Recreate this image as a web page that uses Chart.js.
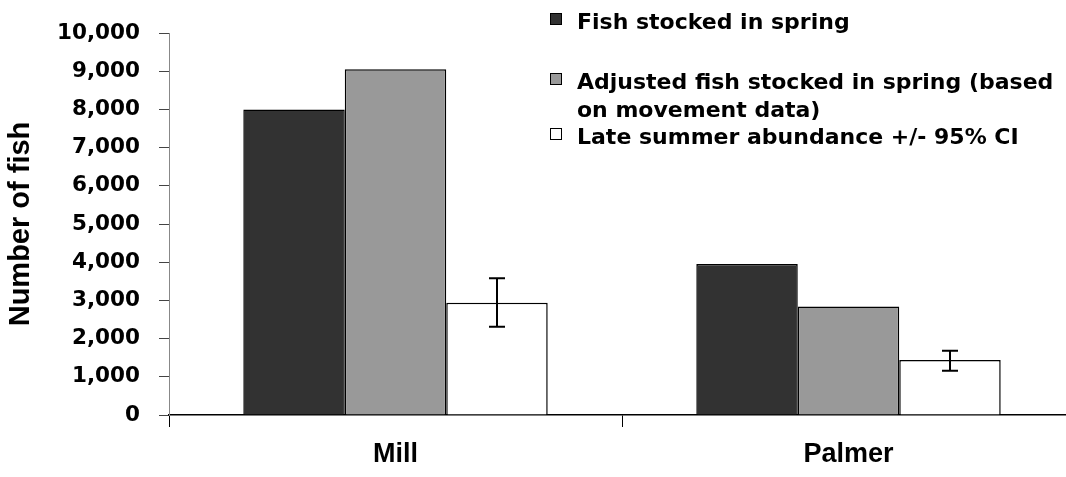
<!DOCTYPE html>
<html>
<head>
<meta charset="utf-8">
<script src="https://cdn.jsdelivr.net/npm/chart.js@4/dist/chart.umd.min.js"></script>
<style>
  html, body { margin: 0; padding: 0; background: #fff; overflow: hidden; }
  #wrap { position: relative; width: 1090px; height: 477px; }
</style>
</head>
<body>
<div id="wrap"><canvas id="c"></canvas></div>
<script>
const categories = ['Mill', 'Palmer'];
const seriesNames = ['Fish stocked in spring', 'Adjusted fish stocked in spring (based\non movement data)', 'Late summer abundance +/- 95% CI'];
const stockedSpring = [8000, 3950];
const adjustedSpring = [9050, 2840];
const lateSummer = [2940, 1440];
const lateSummerLow = [2310, 1160];
const lateSummerHigh = [3580, 1680];
const yTicks = [0, 1000, 2000, 3000, 4000, 5000, 6000, 7000, 8000, 9000, 10000];
const seriesColors = ['#323232', '#999999', '#ffffff'];

const errorBars = {
  id: 'errorBars',
  afterDatasetsDraw(chart) {
    const ctx = chart.ctx;
    const meta = chart.getDatasetMeta(2);
    const y = chart.scales.y;
    ctx.save();
    ctx.strokeStyle = '#000';
    ctx.lineWidth = 2;
    meta.data.forEach((bar, i) => {
      const x = Math.round(bar.x);
      const yl = y.getPixelForValue(lateSummerLow[i]);
      const yh = y.getPixelForValue(lateSummerHigh[i]);
      ctx.beginPath();
      ctx.moveTo(x, yl); ctx.lineTo(x, yh);
      ctx.moveTo(x - 8, yl); ctx.lineTo(x + 8, yl);
      ctx.moveTo(x - 8, yh); ctx.lineTo(x + 8, yh);
      ctx.stroke();
    });
    ctx.restore();
  }
};

const customLegend = {
  id: 'customLegend',
  afterDraw(chart) {
    const ctx = chart.ctx;
    ctx.save();
    ctx.font = 'bold 22px "DejaVu Sans"';
    ctx.fillStyle = '#000';
    ctx.textBaseline = 'alphabetic';
    const baselines = [[29], [89, 117], [144]];
    chart.data.datasets.forEach((ds, i) => {
      const lines = ds.label.split('\n');
      const b0 = baselines[i][0];
      ctx.fillStyle = ds.backgroundColor;
      ctx.fillRect(550.5, b0 - 15.5, 11, 11);
      ctx.strokeStyle = '#000';
      ctx.lineWidth = 1;
      ctx.strokeRect(550.5, b0 - 15.5, 11, 11);
      ctx.fillStyle = '#000';
      lines.forEach((ln, j) => {
        ctx.fillText(ln, 577, baselines[i][j] !== undefined ? baselines[i][j] : b0 + 28 * j);
      });
    });
    ctx.restore();
  }
};

new Chart(document.getElementById('c'), {
  type: 'bar',
  data: {
    labels: categories,
    datasets: [
      { label: seriesNames[0], data: stockedSpring, backgroundColor: seriesColors[0], borderColor: '#000', borderWidth: 1.5 },
      { label: seriesNames[1], data: adjustedSpring, backgroundColor: seriesColors[1], borderColor: '#000', borderWidth: 1.5 },
      { label: seriesNames[2], data: lateSummer, backgroundColor: seriesColors[2], borderColor: '#000', borderWidth: 1.5 }
    ]
  },
  options: {
    responsive: true,
    maintainAspectRatio: false,
    animation: false,
    devicePixelRatio: 1,
    layout: { padding: { top: 33, right: 15, bottom: 0, left: 0 } },
    datasets: { bar: { barPercentage: 1.0, categoryPercentage: 0.672 } },
    plugins: { legend: { display: false }, tooltip: { enabled: false } },
    scales: {
      x: {
        grid: { drawOnChartArea: false, drawTicks: true, tickLength: 12, color: '#000', lineWidth: 1, offset: true },
        border: { display: true, color: '#000', width: 1.5 },
        ticks: { color: '#000', font: { family: '"Liberation Sans", Arial', weight: 'bold', size: 27 }, padding: 11, maxRotation: 0 },
        afterFit(scale) { scale.height = 62; }
      },
      y: {
        min: 0, max: 10000,
        afterBuildTicks(scale) { scale.ticks = yTicks.map(v => ({ value: v })); },
        grid: { drawOnChartArea: false, drawTicks: true, tickLength: 10, color: '#444', lineWidth: 1 },
        border: { display: true, color: '#888', width: 1 },
        ticks: {
          color: '#000', padding: 19,
          font: { family: '"DejaVu Sans"', weight: 'bold', size: 21.5 },
          callback: (v) => Number(v).toLocaleString('en-US')
        },
        title: {
          display: true, text: 'Number of fish', color: '#000',
          font: { family: '"Liberation Sans", Arial', weight: 'bold', size: 29 },
          padding: { top: 4, bottom: 0 }
        },
        afterFit(scale) { scale.width = 169; }
      }
    }
  },
  plugins: [errorBars, customLegend]
});
</script>
</body>
</html>
